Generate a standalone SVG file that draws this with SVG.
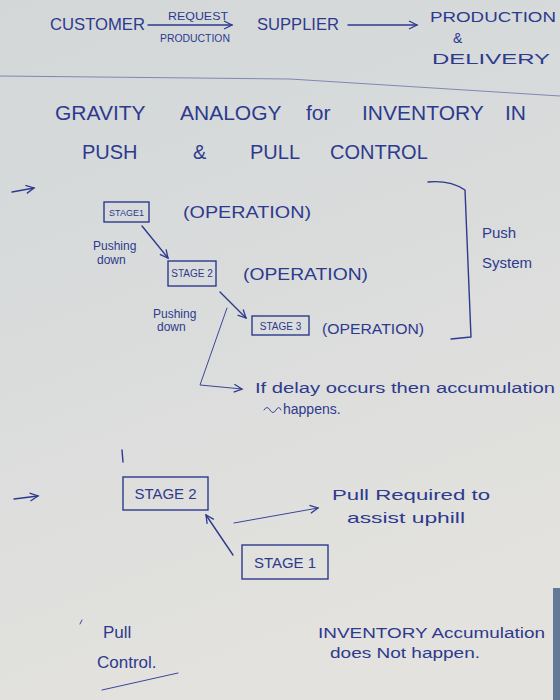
<svg xmlns="http://www.w3.org/2000/svg" width="560" height="700" viewBox="0 0 560 700">
<defs>
<linearGradient id="paper" x1="0" y1="0" x2="0.3" y2="1">
<stop offset="0" stop-color="#d3d7d8"/>
<stop offset="0.5" stop-color="#dadcdc"/>
<stop offset="1" stop-color="#e3e2de"/>
</linearGradient>
<marker id="arr" markerWidth="12" markerHeight="12" refX="9" refY="5" orient="auto" markerUnits="userSpaceOnUse">
<path d="M1,1 L9,5 L1,9" fill="none" stroke="#2d3a8e" stroke-width="1.3"/>
</marker>
<style>
.ink{fill:#2d3a8e;font-family:"Liberation Sans","DejaVu Sans",sans-serif;}
.ln{fill:none;stroke:#2d3a8e;stroke-width:1.4;stroke-linecap:round;stroke-linejoin:round;}
.thin{fill:none;stroke:#3a469a;stroke-width:1;stroke-linecap:round;}
.box{fill:none;stroke:#2d3a8e;stroke-width:1.4;}
</style>
</defs>
<rect width="560" height="700" fill="url(#paper)"/>
<rect x="553" y="588" width="7" height="112" fill="#3a5680" opacity="0.75"/>
<path d="M0,76 L290,79 L560,96" fill="none" stroke="#5a64a8" stroke-width="1" opacity="0.7"/>

<g id="header">
<text class="ink" x="50" y="30" font-size="17" textLength="95" lengthAdjust="spacingAndGlyphs">CUSTOMER</text>
<text class="ink" x="168" y="20" font-size="11" textLength="60" lengthAdjust="spacingAndGlyphs">REQUEST</text>
<text class="ink" x="160" y="42" font-size="10" textLength="70" lengthAdjust="spacingAndGlyphs">PRODUCTION</text>
<text class="ink" x="257" y="30" font-size="17" textLength="82" lengthAdjust="spacingAndGlyphs">SUPPLIER</text>
<text class="ink" x="430" y="22" font-size="15" textLength="126" lengthAdjust="spacingAndGlyphs">PRODUCTION</text>
<text class="ink" x="453" y="43" font-size="14">&amp;</text>
<text class="ink" x="432" y="64" font-size="15" textLength="118" lengthAdjust="spacingAndGlyphs">DELIVERY</text>
</g>

<g id="title">
<text class="ink" y="120" font-size="21"><tspan x="55">GRAVITY</tspan><tspan x="180">ANALOGY</tspan><tspan x="306">for</tspan><tspan x="362">INVENTORY</tspan><tspan x="505">IN</tspan></text>
<text class="ink" y="159" font-size="20"><tspan x="82">PUSH</tspan><tspan x="193">&amp;</tspan><tspan x="250">PULL</tspan><tspan x="330">CONTROL</tspan></text>
</g>

<g id="push-stage1">
<rect class="box" x="104" y="202" width="45" height="20"/>
<text class="ink" x="126.5" y="216" font-size="9" text-anchor="middle">STAGE1</text>
<text class="ink" x="183" y="218" font-size="16" textLength="128" lengthAdjust="spacingAndGlyphs">(OPERATION)</text>
</g>
<g id="push-stage2">
<rect class="box" x="168" y="261" width="48" height="25"/>
<text class="ink" x="192" y="277" font-size="10" text-anchor="middle">STAGE 2</text>
<text class="ink" x="243" y="280" font-size="16" textLength="125" lengthAdjust="spacingAndGlyphs">(OPERATION)</text>
</g>
<g id="push-stage3">
<rect class="box" x="252" y="316" width="57" height="19"/>
<text class="ink" x="280.5" y="330" font-size="10" text-anchor="middle">STAGE 3</text>
<text class="ink" x="322" y="334" font-size="15" textLength="102" lengthAdjust="spacingAndGlyphs">(OPERATION)</text>
</g>
<g id="push-labels">
<text class="ink" x="93" y="250" font-size="12">Pushing</text>
<text class="ink" x="97" y="264" font-size="12">down</text>
<text class="ink" x="153" y="318" font-size="12">Pushing</text>
<text class="ink" x="157" y="331" font-size="12">down</text>
<text class="ink" x="482" y="238" font-size="15">Push</text>
<text class="ink" x="482" y="268" font-size="15">System</text>
<text class="ink" x="255" y="393" font-size="14" textLength="300" lengthAdjust="spacingAndGlyphs">If delay occurs then accumulation</text>
<text class="ink" x="283" y="414" font-size="14">happens.</text>
</g>

<g id="pull-stage2">
<rect class="box" x="123" y="477" width="85" height="33"/>
<text class="ink" x="165.5" y="499" font-size="15" text-anchor="middle">STAGE 2</text>
</g>
<g id="pull-stage1">
<rect class="box" x="242" y="545" width="86" height="34"/>
<text class="ink" x="285" y="568" font-size="15" text-anchor="middle">STAGE 1</text>
</g>
<g id="pull-labels">
<text class="ink" x="332" y="500" font-size="15" textLength="158" lengthAdjust="spacingAndGlyphs">Pull Required to</text>
<text class="ink" x="347" y="523" font-size="15" textLength="118" lengthAdjust="spacingAndGlyphs">assist uphill</text>
<text class="ink" x="103" y="638" font-size="17">Pull</text>
<text class="ink" x="97" y="668" font-size="17">Control.</text>
<text class="ink" x="318" y="638" font-size="14" textLength="227" lengthAdjust="spacingAndGlyphs">INVENTORY Accumulation</text>
<text class="ink" x="330" y="658" font-size="14" textLength="150" lengthAdjust="spacingAndGlyphs">does Not happen.</text>
</g>

<g id="connectors">
<line class="ln" x1="148" y1="25" x2="232" y2="25" marker-end="url(#arr)"/>
<line class="ln" x1="348" y1="25" x2="417" y2="25" marker-end="url(#arr)"/>
<line class="ln" x1="12" y1="192" x2="34" y2="188" marker-end="url(#arr)"/>
<line class="ln" x1="14" y1="499" x2="38" y2="496" marker-end="url(#arr)"/>
<line class="ln" x1="142" y1="226" x2="168" y2="258" marker-end="url(#arr)"/>
<line class="ln" x1="220" y1="292" x2="246" y2="318" marker-end="url(#arr)"/>
<path class="ln" d="M428,182 Q450,180 465,190 L471,337 L451,339"/>
<path class="thin" d="M227,308 L200,385 L242,389" marker-end="url(#arr)"/>
<path class="thin" d="M264,410 q3,-5 6,0 q3,5 6,0 q3,-5 5,0"/>
<line class="ln" x1="122" y1="450" x2="123" y2="462"/>
<line class="ln" x1="233" y1="555" x2="206" y2="515" marker-end="url(#arr)"/>
<line class="thin" x1="234" y1="523" x2="318" y2="508" marker-end="url(#arr)"/>
<line class="thin" x1="102" y1="690" x2="178" y2="673"/>
<line class="thin" x1="80" y1="624" x2="82" y2="620"/>
</g>
</svg>
